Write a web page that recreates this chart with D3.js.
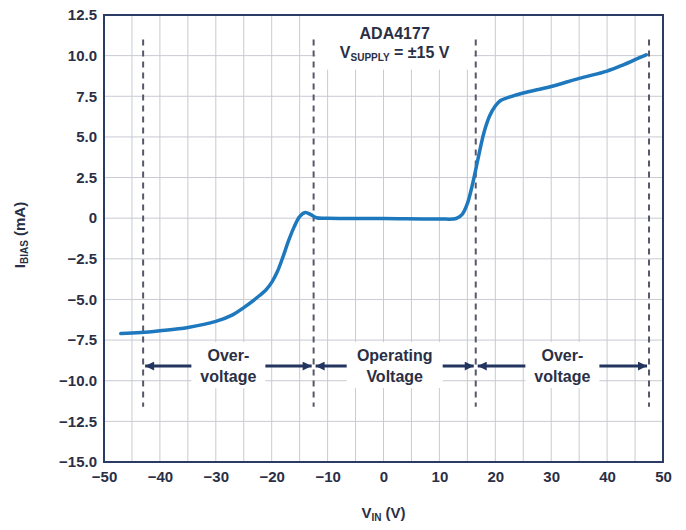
<!DOCTYPE html>
<html>
<head>
<meta charset="utf-8">
<script src="https://cdn.jsdelivr.net/npm/d3@7"></script>
<style>
  html, body { margin: 0; padding: 0; background: #ffffff; }
  svg { display: block; font-family: "Liberation Sans", Arial, sans-serif; }
</style>
</head>
<body>
<svg id="chart" width="686" height="530"></svg>
<script>
// ---- data ----
const vin =   [-47, -45, -42, -40, -35, -30, -27, -25, -22.5, -21, -20, -19, -18, -17, -16, -15, -14, -13, -12, -10, 0, 10, 13, 14, 15, 16, 17, 18, 19, 20, 21, 22.5, 25, 30, 35, 40, 43, 45, 47];
const ibias = [-7.1, -7.07, -7.0, -6.93, -6.72, -6.35, -5.95, -5.5, -4.85, -4.4, -3.95, -3.3, -2.4, -1.4, -0.55, 0.1, 0.35, 0.22, 0.03, 0, -0.02, -0.05, -0.02, 0.2, 0.9, 2.2, 3.8, 5.3, 6.3, 6.9, 7.25, 7.45, 7.7, 8.1, 8.6, 9.05, 9.45, 9.75, 10.05];
const xTicks = [-50, -40, -30, -20, -10, 0, 10, 20, 30, 40, 50];
const yTicks = [12.5, 10, 7.5, 5, 2.5, 0, -2.5, -5, -7.5, -10, -12.5, -15];
const xGrid = d3.range(-50, 50.01, 5);
const yGrid = d3.range(-15, 12.51, 2.5);
const regionBounds = [-43, -12.5, 16.5, 47.5];
const regionLabels = [["Over-", "voltage"], ["Operating", "Voltage"], ["Over-", "voltage"]];
const titleLines = ["ADA4177"];

// ---- layout ----
const svg = d3.select("#chart");
const L = 104, R = 663, T = 15, B = 462;
const x = d3.scaleLinear().domain([-50, 50]).range([L, R]);
const y = d3.scaleLinear().domain([-15, 12.5]).range([B, T]);
const ink = "#2b2f45";

// grid
const g = svg.append("g");
g.selectAll(".vg").data(xGrid).join("line")
  .attr("x1", d => x(d)).attr("x2", d => x(d)).attr("y1", T).attr("y2", B)
  .attr("stroke", "#c9cad3").attr("stroke-width", 1);
g.selectAll(".hg").data(yGrid).join("line")
  .attr("y1", d => y(d)).attr("y2", d => y(d)).attr("x1", L).attr("x2", R)
  .attr("stroke", "#c9cad3").attr("stroke-width", 1);

// white box behind title
svg.append("rect").attr("x", x(regionBounds[1]) + 2).attr("y", T + 1)
  .attr("width", x(regionBounds[2]) - x(regionBounds[1]) - 4).attr("height", y(9.2) - T)
  .attr("fill", "#fff");

// annotation arrows
const defs = svg.append("defs");
defs.append("marker").attr("id", "ah").attr("viewBox", "0 0 10 10")
  .attr("refX", 10).attr("refY", 5).attr("markerWidth", 13).attr("markerHeight", 9)
  .attr("markerUnits", "userSpaceOnUse").attr("orient", "auto")
  .append("path").attr("d", "M0,0 L10,5 L0,10 Z").attr("fill", "#23355f");

const arrowY = y(-9.1);
for (let i = 0; i < 3; i++) {
  const x0 = x(regionBounds[i]) + 2, x1 = x(regionBounds[i + 1]) - 2;
  const cx = (x0 + x1) / 2;
  svg.append("line").attr("x1", cx).attr("x2", x0).attr("y1", arrowY).attr("y2", arrowY)
    .attr("stroke", "#23355f").attr("stroke-width", 3).attr("marker-end", "url(#ah)");
  svg.append("line").attr("x1", cx).attr("x2", x1).attr("y1", arrowY).attr("y2", arrowY)
    .attr("stroke", "#23355f").attr("stroke-width", 3).attr("marker-end", "url(#ah)");
  const halfW = i === 1 ? 48 : 37;
  svg.append("rect").attr("x", cx - halfW).attr("y", arrowY - 24).attr("width", 2 * halfW).attr("height", 46)
    .attr("fill", "#fff");
  const t = svg.append("text").attr("text-anchor", "middle").attr("font-size", 16)
    .attr("font-weight", "bold").attr("fill", ink);
  t.append("tspan").attr("x", cx).attr("y", arrowY - 5).text(regionLabels[i][0]);
  t.append("tspan").attr("x", cx).attr("y", arrowY + 16).text(regionLabels[i][1]);
}

// dashed lines
svg.selectAll(".dash").data(regionBounds).join("line")
  .attr("x1", d => x(d)).attr("x2", d => x(d)).attr("y1", y(11)).attr("y2", y(-11.6))
  .attr("stroke", "#55586a").attr("stroke-width", 2).attr("stroke-dasharray", "6,5");

// title
const tcx = x((regionBounds[1] + regionBounds[2]) / 2);
svg.append("text").attr("x", tcx).attr("y", 39).attr("text-anchor", "middle")
  .attr("font-size", 16).attr("font-weight", "bold").attr("fill", ink).text(titleLines[0]);
const t2 = svg.append("text").attr("x", tcx).attr("y", 58).attr("text-anchor", "middle")
  .attr("font-size", 16).attr("font-weight", "bold").attr("fill", ink);
t2.append("tspan").text("V");
t2.append("tspan").attr("font-size", 10).attr("dy", 3).text("SUPPLY");
t2.append("tspan").attr("dy", -3).text(" =  ±15 V");

// curve
const pts = vin.map((v, i) => [v, ibias[i]]);
svg.append("path").datum(pts)
  .attr("d", d3.line().x(d => x(d[0])).y(d => y(d[1])).curve(d3.curveCatmullRom.alpha(0.5)))
  .attr("fill", "none").attr("stroke", "#1d78bd").attr("stroke-width", 3.5)
  .attr("stroke-linecap", "round");

// border
svg.append("rect").attr("x", L).attr("y", T).attr("width", R - L).attr("height", B - T)
  .attr("fill", "none").attr("stroke", "#2c3a66").attr("stroke-width", 2);

// axes
const fmt = d => d === 0 ? "0" : (d < 0 ? "\u2212" : "") + Math.abs(d);
const yAxis = svg.append("g").attr("transform", `translate(${L},0)`)
  .call(d3.axisLeft(y).tickValues(yTicks).tickSize(0).tickPadding(7)
    .tickFormat(d => d === 0 ? "0" : (d < 0 ? "\u2212" : "") + Math.abs(d).toFixed(1)));
const xAxis = svg.append("g").attr("transform", `translate(0,${B})`)
  .call(d3.axisBottom(x).tickValues(xTicks).tickSize(0).tickPadding(9).tickFormat(fmt));
[yAxis, xAxis].forEach(a => {
  a.select(".domain").remove();
  a.selectAll("text").attr("font-size", 15).attr("font-weight", "bold")
    .attr("fill", ink).attr("font-family", "'Liberation Sans', Arial, sans-serif");
});

// axis titles
const xt = svg.append("text").attr("x", x(0)).attr("y", 518).attr("text-anchor", "middle")
  .attr("font-size", 15).attr("font-weight", "bold").attr("fill", ink);
xt.append("tspan").text("V");
xt.append("tspan").attr("font-size", 10).attr("dy", 3).text("IN");
xt.append("tspan").attr("dy", -3).text(" (V)");

const yt = svg.append("text").attr("transform", "translate(25,235) rotate(-90)")
  .attr("text-anchor", "middle").attr("font-size", 15).attr("font-weight", "bold").attr("fill", ink);
yt.append("tspan").text("I");
yt.append("tspan").attr("font-size", 10).attr("dy", 3).text("BIAS");
yt.append("tspan").attr("dy", -3).text(" (mA)");
</script>
</body>
</html>
